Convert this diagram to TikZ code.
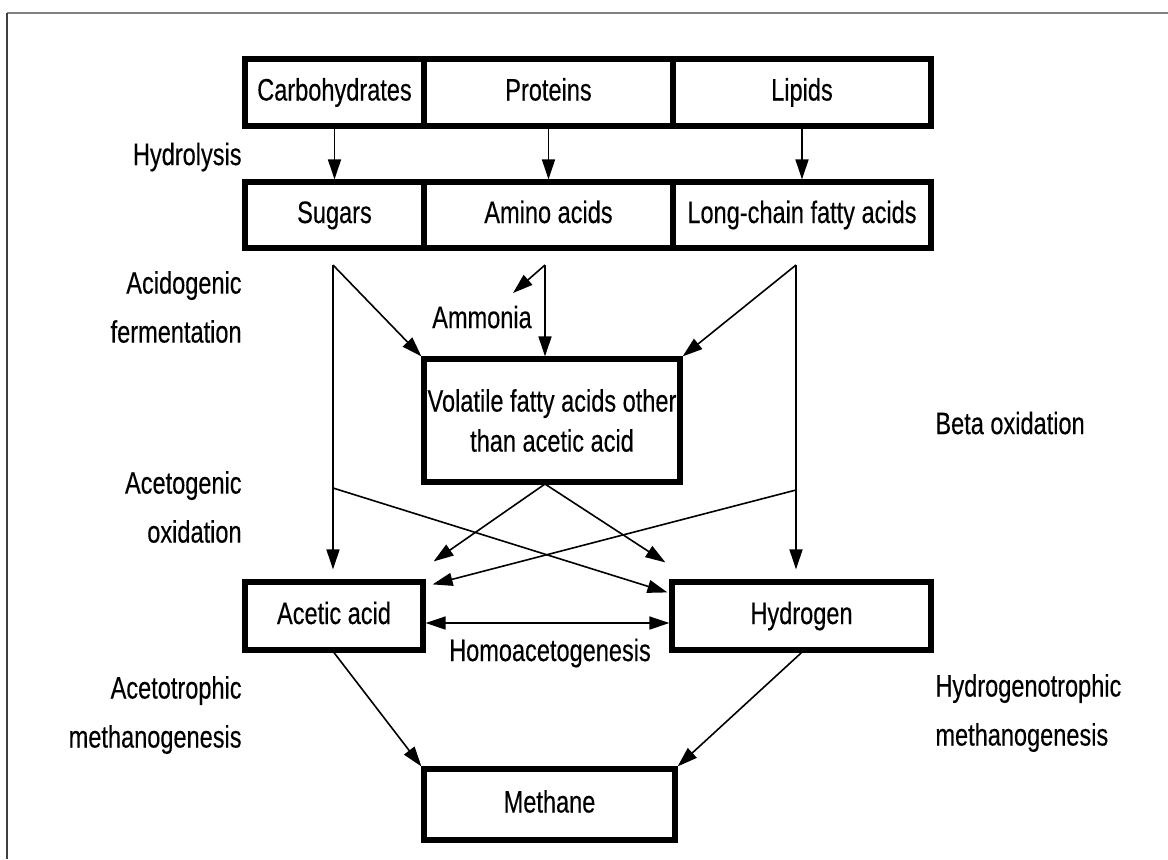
\documentclass[tikz,border=0pt]{standalone}
\usepackage{fontspec}
\setmainfont{Liberation Sans}[FakeStretch=0.76,FakeBold=0.3]
\usetikzlibrary{arrows.meta}

\begin{document}
\begin{tikzpicture}[
    x=0.5pt, y=-0.5pt,
    >={Triangle[length=10pt,width=6.5pt]},
    mybox/.style = {draw, line width=2.6pt, inner sep=0pt, font=\fontsize{15.5}{20}\selectfont},
    onel/.style = {mybox, text height=11pt, text depth=3pt},
    rowa/.style = {onel, minimum height=33.5pt},
    rowb/.style = {onel, minimum height=33pt},
    lbl/.style = {inner sep=0pt, font=\fontsize{15.5}{24.5}\selectfont},
    flow/.style = {->, line width=0.8pt},
    ]
    \useasboundingbox (0,0) rectangle (1168,859);
    \draw[gray, line width=1pt] (7,13) -- (1168,13);
    \draw[black!75, line width=1pt] (7,13) -- (7,859);

    % substrates and hydrolysis products
    \node[rowa, minimum width=89.5pt] (carb) at (334.5,92.5) {Carbohydrates};
    \node[rowa, minimum width=124.5pt] (prot) at (548.5,92.5) {Proteins};
    \node[rowa, minimum width=129pt] (lip) at (802,92.5) {Lipids};
    \node[rowb, minimum width=89.5pt] (sug) at (334.5,215) {Sugars};
    \node[rowb, minimum width=124.5pt] (amino) at (548.5,215) {Amino acids};
    \node[rowb, minimum width=129pt] (lcfa) at (802,215) {Long-chain fatty acids};

    \node[mybox, minimum width=128pt, minimum height=61.5pt, align=center] (vfa) at (552,420.5) {Volatile fatty acids other\\than acetic acid};
    \node[onel, minimum width=89pt, minimum height=34pt] (acet) at (334,616) {Acetic acid};
    \node[onel, minimum width=129.5pt, minimum height=34pt] (hydg) at (801.5,616) {Hydrogen};
    \node[onel, minimum width=125.5pt, minimum height=35.5pt] (meth) at (549.5,804.5) {Methane};

    % process names
    \node[lbl, anchor=east] (hydro) at (242,157) {Hydrolysis};
    \node[lbl, anchor=east, align=right] (acido) at (242,307) {Acidogenic\\fermentation};
    \node[lbl, anchor=east, align=right] (acetog) at (242,507) {Acetogenic\\oxidation};
    \node[lbl, anchor=east, align=right] (acetotr) at (242,715) {Acetotrophic\\methanogenesis};
    \node[lbl, anchor=west] (beta) at (935,423) {Beta oxidation};
    \node[lbl, anchor=west, align=left] (hydrotr) at (935,713) {Hydrogenotrophic\\methanogenesis};
    \node[lbl] (ammonia) at (482,317) {Ammonia};
    \node[lbl] (homo) at (550,653) {Homoacetogenesis};

    \coordinate (s0) at (333,265);
    \coordinate (s1) at (333,488);
    \coordinate (a0) at (545,265);
    \coordinate (n0) at (513,293);
    \coordinate (l0) at (796,265);
    \coordinate (l1) at (796,490);
    \coordinate (v0) at (545,484);

    \path[flow] (carb) edge (sug) (prot) edge (amino) (lip) edge (lcfa);
    \draw[flow] (s0) -- (vfa.north west);
    \draw[flow, shorten >=5pt] (s0) -- (s0 |- acet.north);
    \draw[flow] (a0) -- (n0);
    \draw[flow] (a0) -- (a0 |- vfa.north);
    \draw[flow] (l0) -- (vfa.north east);
    \draw[flow, shorten >=5pt] (l0) -- (l0 |- hydg.north);
    \draw[flow] (v0) -- ([shift={(8,-18)}]acet.north east);
    \draw[flow] (v0) -- ([shift={(-4,-17)}]hydg.north west);
    \draw[flow] (s1) -- ([shift={(-2,13)}]hydg.north west);
    \draw[flow] (l1) -- ([shift={(7,5)}]acet.north east);
    \draw[flow, <->] ([yshift=-3.5pt]acet.east) -- ([yshift=-3.5pt]hydg.west);
    \draw[flow] (acet.south) -- (meth.north west);
    \draw[flow] (hydg.south) -- (meth.north east);
\end{tikzpicture}
\end{document}
